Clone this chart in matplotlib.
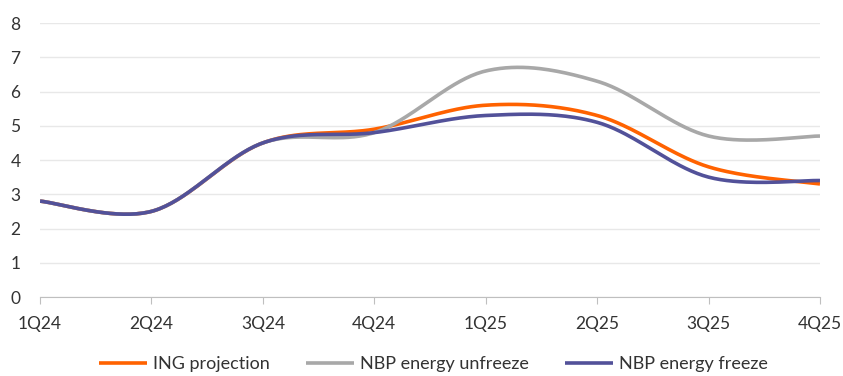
import numpy as np
import matplotlib
matplotlib.use("Agg")
import matplotlib.pyplot as plt

plt.rcParams['font.family'] = ['Lato', 'DejaVu Sans']

quarters = ["1Q24", "2Q24", "3Q24", "4Q24", "1Q25", "2Q25", "3Q25", "4Q25"]
ing_projection = [2.8, 2.5, 4.5, 4.9, 5.6, 5.3, 3.8, 3.3]
nbp_unfreeze = [2.8, 2.5, 4.5, 4.8, 6.6, 6.3, 4.7, 4.7]
nbp_freeze = [2.8, 2.5, 4.5, 4.8, 5.3, 5.1, 3.5, 3.4]

series_names = ["ING projection", "NBP energy unfreeze", "NBP energy freeze"]
series_colors = ["#FF6200", "#A8A8A8", "#525199"]


# excel-like smoothed line (bezier through the points)
def smooth(y, n=40):
    y = np.asarray(y, dtype=float)
    x = np.arange(len(y), dtype=float)
    pts = np.column_stack([x, y])
    ext = np.vstack([pts[0], pts, pts[-1]])
    t = np.linspace(0, 1, n)[:, None]
    out = []
    for i in range(len(pts) - 1):
        p0, p3 = ext[i + 1], ext[i + 2]
        p1 = p0 + (ext[i + 2] - ext[i]) / 6
        p2 = p3 - (ext[i + 3] - ext[i + 1]) / 6
        seg = (1 - t) ** 3 * p0 + 3 * (1 - t) ** 2 * t * p1 + 3 * (1 - t) * t ** 2 * p2 + t ** 3 * p3
        out.append(seg if i == 0 else seg[1:])
    out = np.vstack(out)
    return out[:, 0], out[:, 1]


fig = plt.figure(figsize=(8.43, 3.76), dpi=100)
ax = fig.add_axes([0.0475, 0.2101, 0.9252, 0.7287])

for vals, name, col in zip([ing_projection, nbp_unfreeze, nbp_freeze], series_names, series_colors):
    xs, ys = smooth(vals)
    ax.plot(xs, ys, color=col, lw=2.6, label=name, solid_capstyle='butt')

ax.set_xlim(0, len(quarters) - 1)
ax.set_ylim(0, 8)
ax.set_xticks(range(len(quarters)))
ax.set_xticklabels(quarters, fontsize=12.5, color="#333333")
ax.set_yticks(range(0, 9))
ax.tick_params(axis='y', length=0, labelsize=12.5, labelcolor="#333333", pad=14)
ax.tick_params(axis='x', length=5, color="#BFBFBF", pad=9)
ax.grid(axis='y', color="#E8E8E8", lw=1)
ax.set_axisbelow(True)
for s in ["top", "right", "left"]:
    ax.spines[s].set_visible(False)
ax.spines["bottom"].set_color("#BFBFBF")

leg = ax.legend(loc='center', bbox_to_anchor=(0.504, -0.245), ncol=3, frameon=False,
                fontsize=13, handlelength=2.7, handletextpad=0.3, columnspacing=2.0,
                borderpad=0)
for t in leg.get_texts():
    t.set_color("#333333")

fig.savefig("out.png", dpi=100)
